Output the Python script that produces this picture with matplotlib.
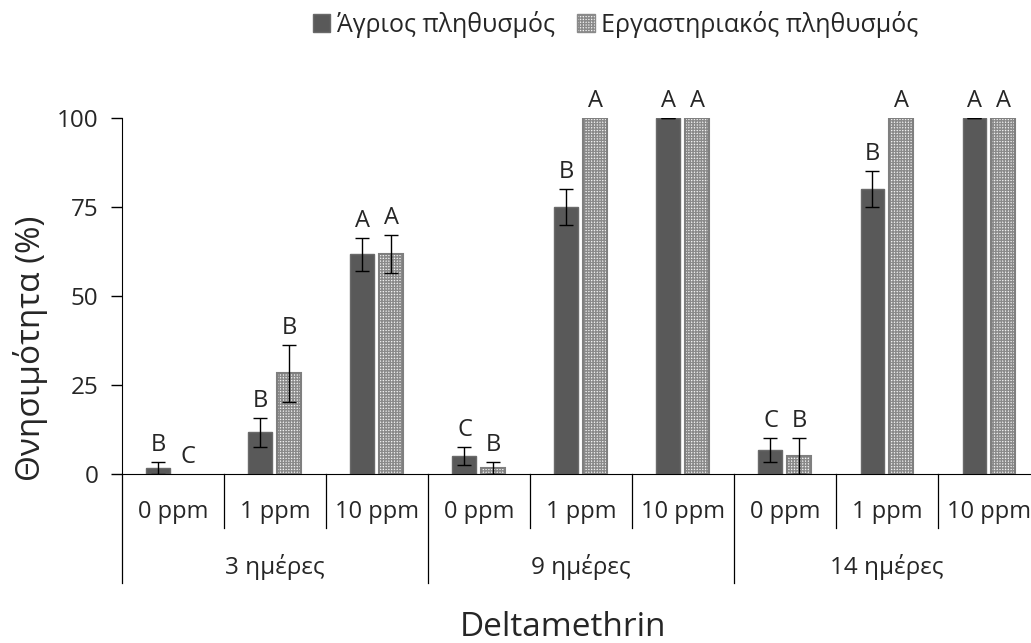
import numpy as np
import matplotlib.pyplot as plt
import matplotlib.transforms as mtransforms
from matplotlib.patches import Patch

plt.rcParams['font.family'] = ['Open Sans', 'DejaVu Sans']
plt.rcParams['hatch.linewidth'] = 1.0

doses = ['0 ppm', '1 ppm', '10 ppm']
days = ['3 ημέρες', '9 ημέρες', '14 ημέρες']

wild = [1.7, 11.7, 61.7, 5.0, 75.0, 100.0, 6.7, 80.0, 100.0]
wild_err = [1.7, 4.0, 4.6, 2.5, 5.0, 0.0, 3.3, 5.0, 0.0]
wild_letters = ['B', 'B', 'A', 'C', 'B', 'A', 'C', 'B', 'A']

lab = [0.0, 28.3, 61.7, 1.7, 100.0, 100.0, 5.0, 100.0, 100.0]
lab_err = [0.0, 8.0, 5.3, 1.7, 0.0, 0.0, 5.0, 0.0, 0.0]
lab_letters = ['C', 'B', 'A', 'B', 'A', 'A', 'B', 'A', 'A']

dark = '#595959'
light = '#f2f2f2'
hatch_col = '#8a8a8a'
edge = '#7f7f7f'
txt = '#262626'

fig = plt.figure(figsize=(10.31, 6.43), dpi=100)
ax = fig.add_axes([0.1183, 0.2628, 0.8904, 0.5537])

x = np.arange(len(wild))
w = 0.235
off = 0.142

ax.bar(x - off, wild, w, color=dark, edgecolor='#6a6a6a', linewidth=1.0, zorder=2)
# patterned bars: hatch drawn first, outline on top
ax.bar(x + off, lab, w, color=light, edgecolor=hatch_col, hatch='++++++', linewidth=0, zorder=2)
ax.bar(x + off, lab, w, fill=False, edgecolor=edge,
       linewidth=[1.5 if v > 0 else 0 for v in lab], zorder=3)

ax.errorbar(x - off, wild, yerr=wild_err, fmt='none', ecolor='black',
            elinewidth=1, capsize=5, capthick=1, zorder=4)
lab_e = np.array(lab_err)
m = lab_e > 0
ax.errorbar((x + off)[m], np.array(lab)[m], yerr=lab_e[m], fmt='none', ecolor='black',
            elinewidth=1, capsize=5, capthick=1, zorder=4)

for xi, v, e, t in zip(x - off, wild, wild_err, wild_letters):
    ax.annotate(t, (xi, v + e), xytext=(0, 8), textcoords='offset points',
                ha='center', va='baseline', fontsize=17, color=txt)
for xi, v, e, t in zip(x + off, lab, lab_err, lab_letters):
    ax.annotate(t, (xi, v + e), xytext=(0, 8), textcoords='offset points',
                ha='center', va='baseline', fontsize=17, color=txt)

ax.set_xlim(-0.5, len(wild) - 0.5)
ax.set_ylim(0, 100)
ax.set_yticks([0, 25, 50, 75, 100])
ax.tick_params(axis='y', labelsize=17.5, length=8, width=1, direction='out', colors='black',
               labelcolor=txt, pad=9)
ax.set_xticks([])
for s in ['top', 'right']:
    ax.spines[s].set_visible(False)
ax.spines['left'].set_color('black')
ax.spines['bottom'].set_color('black')

# two-level category axis: dose labels, then exposure time groups
trans = mtransforms.blended_transform_factory(ax.transData, ax.transAxes)
for i, xi in enumerate(x):
    ax.text(xi, -0.107, doses[i % 3], transform=trans, ha='center', va='center',
            fontsize=17, color=txt)
for b in np.arange(0, len(wild) + 1):
    depth = -0.307 if b % 3 == 0 else -0.152
    ax.plot([b - 0.5, b - 0.5], [0, depth], transform=trans, color='black',
            linewidth=0.9, clip_on=False)
for g, name in enumerate(days):
    ax.text(3 * g + 1, -0.262, name, transform=trans, ha='center', va='center',
            fontsize=17.5, color=txt)

ax.text(0.48, -0.43, 'Deltamethrin', transform=ax.transAxes, ha='center', va='center',
        fontsize=24, color=txt)
# title centred on the plot area including the category rows
ax.set_ylabel('Θνησιμότητα (%)', fontsize=24, color=txt, labelpad=6, y=0.354)

handles = [Patch(facecolor=dark, edgecolor='#6a6a6a'),
           Patch(facecolor=light, edgecolor=hatch_col, hatch='++++++')]
fig.legend(handles, ['Άγριος πληθυσμός', 'Εργαστηριακός πληθυσμός'], loc='center',
           bbox_to_anchor=(0.597, 0.962), ncol=2, frameon=False, fontsize=18,
           handlelength=0.7, handleheight=0.7, handletextpad=0.25, columnspacing=0.9,
           labelcolor=txt)

fig.savefig('out.png', dpi=100)
